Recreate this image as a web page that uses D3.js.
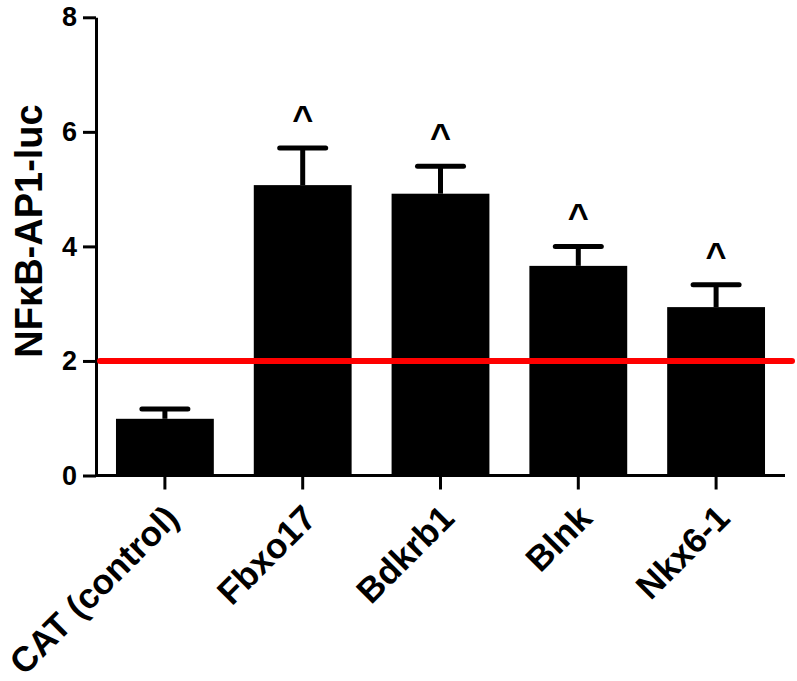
<!DOCTYPE html>
<html>
<head>
  <meta charset="utf-8">
  <style>
    body { margin: 0; background: #fff; }
    text { font-family: Arial, "Liberation Sans", sans-serif; font-weight: bold; fill: #000; }
    .axis path, .axis line { stroke: #000; stroke-width: 3; }
  </style>
  <script src="https://d3js.org/d3.v7.min.js"></script>
</head>
<body>
<div id="chart"></div>
<script>
  // values
  var categories = ["CAT (control)", "Fbxo17", "Bdkrb1", "Blnk", "Nkx6-1"];
  var means = [0.99, 5.07, 4.92, 3.66, 2.94];
  var errTops = [1.16, 5.72, 5.40, 4.00, 3.33];
  var marks = ["", "^", "^", "^", "^"];
  var yTicks = [0, 2, 4, 6, 8];
  var threshold = 2;

  var width = 797, height = 681;
  var plotLeft = 96, plotRight = 785, plotTop = 17.3, plotBottom = 475.5;

  var svg = d3.select("#chart").append("svg")
      .attr("width", width)
      .attr("height", height);

  var x = d3.scaleBand()
      .domain(categories)
      .range([plotLeft, plotRight])
      .paddingInner(0.29)
      .paddingOuter(0.145);

  var y = d3.scaleLinear()
      .domain([0, 8])
      .range([plotBottom, plotTop]);

  // bars
  svg.selectAll("rect.bar")
      .data(categories)
      .enter().append("rect")
      .attr("class", "bar")
      .attr("x", function(d) { return x(d); })
      .attr("width", x.bandwidth())
      .attr("y", function(d, i) { return y(means[i]); })
      .attr("height", function(d, i) { return y(0) - y(means[i]); })
      .attr("fill", "#000");

  // error bars (upper only)
  var err = svg.append("g")
      .attr("stroke", "#000")
      .attr("stroke-width", 5);

  err.selectAll("line.stem")
      .data(categories)
      .enter().append("line")
      .attr("x1", function(d) { return x(d) + x.bandwidth() / 2; })
      .attr("x2", function(d) { return x(d) + x.bandwidth() / 2; })
      .attr("y1", function(d, i) { return y(means[i]); })
      .attr("y2", function(d, i) { return y(errTops[i]); });

  err.selectAll("line.cap")
      .data(categories)
      .enter().append("line")
      .attr("stroke-linecap", "round")
      .attr("x1", function(d) { return x(d) + x.bandwidth() / 2 - 23; })
      .attr("x2", function(d) { return x(d) + x.bandwidth() / 2 + 23; })
      .attr("y1", function(d, i) { return y(errTops[i]); })
      .attr("y2", function(d, i) { return y(errTops[i]); });

  // significance marks
  svg.selectAll("text.mark")
      .data(categories)
      .enter().append("text")
      .attr("class", "mark")
      .attr("text-anchor", "middle")
      .style("font-size", "36px")
      .attr("x", function(d) { return x(d) + x.bandwidth() / 2; })
      .attr("y", function(d, i) { return y(errTops[i]) - 17; })
      .text(function(d, i) { return marks[i]; });

  // y axis
  var yAxis = svg.append("g")
      .attr("class", "axis")
      .attr("transform", "translate(" + plotLeft + ",0)")
      .call(d3.axisLeft(y).tickValues(yTicks).tickSize(13).tickSizeOuter(0).tickPadding(6));
  yAxis.selectAll("text")
      .style("font-size", "27px");

  // x axis
  var xAxis = svg.append("g")
      .attr("class", "axis")
      .attr("transform", "translate(0," + plotBottom + ")")
      .call(d3.axisBottom(x).tickSize(14).tickSizeOuter(0));
  xAxis.select(".domain").attr("d", "M" + plotLeft + ",0H" + plotRight);
  xAxis.selectAll("text")
      .style("font-size", "35px")
      .attr("text-anchor", "end")
      .attr("dy", "0.35em")
      .attr("transform", "translate(7,36) rotate(-45)")
      .attr("y", 0)
      .attr("x", 0);

  // threshold line
  svg.append("line")
      .attr("x1", plotLeft + 4)
      .attr("x2", 792)
      .attr("y1", y(threshold))
      .attr("y2", y(threshold))
      .attr("stroke", "#ff0000")
      .attr("stroke-width", 6)
      .attr("stroke-linecap", "round");

  // y title
  svg.append("text")
      .attr("transform", "translate(42,231) rotate(-90)")
      .attr("text-anchor", "middle")
      .style("font-size", "38px")
      .text("NF\u03baB-AP1-luc");
</script>
</body>
</html>
